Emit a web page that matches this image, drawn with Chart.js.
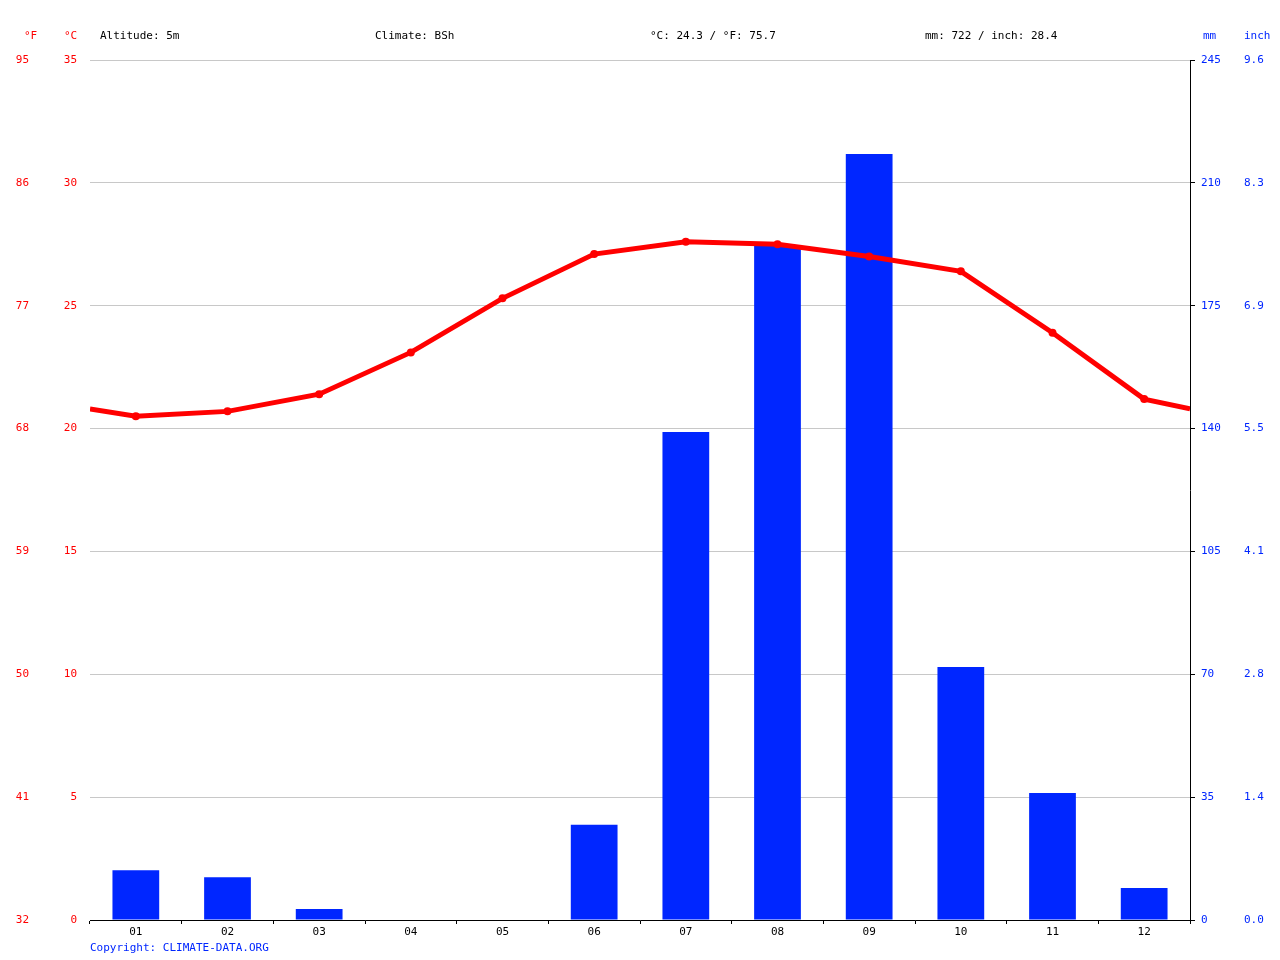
<!DOCTYPE html>
<html>
<head>
<meta charset="utf-8">
<script src="https://cdn.jsdelivr.net/npm/chart.js@4/dist/chart.umd.min.js"></script>
<style>body{margin:0;background:#fff}canvas{display:block}</style>
</head>
<body>
<canvas id="chart" width="1280" height="960"></canvas>
<script>
const months = ['01','02','03','04','05','06','07','08','09','10','11','12']
const tempC = [20.5, 20.7, 21.4, 23.1, 25.3, 27.1, 27.6, 27.5, 27.0, 26.4, 23.9, 21.2]
// temperature where the line meets the left and right edges
const edgeTemp = [20.8, 20.8]
const rainMm = [14.2, 12.2, 3.1, 0, 0, 27.1, 139, 192, 218.2, 72.1, 36.2, 9.1]
const headerTexts = ['Altitude: 5m', 'Climate: BSh', '°C: 24.3 / °F: 75.7', 'mm: 722 / inch: 28.4']

const FONT = 'DejaVu Sans Mono'
const RED = '#ff0000'
const BLUE = '#0026ff'

const linePoints = [{x: 0.5, y: edgeTemp[0]}]
tempC.forEach((t, i) => linePoints.push({x: i + 1, y: t}))
linePoints.push({x: 12.5, y: edgeTemp[1]})

const fixWidth = w => axis => { axis.width = w }

const header = {
    id: 'header',
    afterDraw(chart) {
        const ctx = chart.ctx
        ctx.save()
        ctx.font = '11px "' + FONT + '"'
        ctx.textBaseline = 'middle'
        ctx.fillStyle = RED
        ctx.fillText('°F', 24, 36)
        ctx.fillText('°C', 64, 36)
        ctx.fillStyle = '#000'
        const xs = [100, 375, 650, 925]
        headerTexts.forEach((t, i) => ctx.fillText(t, xs[i], 36))
        ctx.fillStyle = BLUE
        ctx.fillText('mm', 1203, 36)
        ctx.fillText('inch', 1244, 36)
        ctx.fillText('Copyright: CLIMATE-DATA.ORG', 90, 948)
        ctx.restore()
    }
}

new Chart(document.getElementById('chart'), {
    data: {
        labels: months,
        datasets: [{
            type: 'line',
            data: linePoints,
            xAxisID: 'x2',
            yAxisID: 'yC',
            borderColor: RED,
            backgroundColor: RED,
            borderWidth: 5,
            pointRadius: [0, 4, 4, 4, 4, 4, 4, 4, 4, 4, 4, 4, 4, 0],
            pointBackgroundColor: RED,
            pointBorderWidth: 0,
            tension: 0,
            order: 0
        }, {
            type: 'bar',
            data: rainMm,
            xAxisID: 'x',
            yAxisID: 'yMm',
            backgroundColor: BLUE,
            grouped: false,
            barPercentage: 0.51,
            categoryPercentage: 1,
            order: 1
        }]
    },
    options: {
        responsive: false,
        devicePixelRatio: 1,
        animation: false,
        layout: {padding: {top: 60, bottom: 0, left: 0, right: 0}},
        plugins: {legend: {display: false}, tooltip: {enabled: false}},
        scales: {
            x: {
                type: 'category',
                position: 'bottom',
                offset: true,
                afterFit: axis => { axis.height = 40 },
                grid: {drawOnChartArea: false, drawTicks: true, tickLength: 4, color: '#000', offset: true},
                border: {color: '#000'},
                ticks: {color: '#000', font: {family: FONT, size: 11}, padding: 2}
            },
            x2: {type: 'linear', display: false, min: 0.5, max: 12.5},
            yC: {
                position: 'left', min: 0, max: 35,
                afterFit: fixWidth(45),
                afterBuildTicks: axis => { axis.ticks = [0,5,10,15,20,25,30,35].map(v => ({value: v})) },
                grid: {color: '#c8c8c8', drawTicks: false}, border: {display: false},
                ticks: {color: RED, font: {family: FONT, size: 11}, padding: 13}
            },
            yF: {
                position: 'left', min: 0, max: 35,
                afterFit: fixWidth(45),
                afterBuildTicks: axis => { axis.ticks = [0,5,10,15,20,25,30,35].map(v => ({value: v})) },
                grid: {display: false}, border: {display: false},
                ticks: {color: RED, font: {family: FONT, size: 11}, padding: 8,
                    callback: v => Math.round(v * 9 / 5 + 32)}
            },
            yMm: {
                position: 'right', min: 0, max: 245,
                afterFit: fixWidth(50),
                afterBuildTicks: axis => { axis.ticks = [0,35,70,105,140,175,210,245].map(v => ({value: v})) },
                grid: {drawOnChartArea: false, drawTicks: true, tickLength: 5, color: '#000'},
                border: {color: '#000'},
                ticks: {color: BLUE, font: {family: FONT, size: 11}, padding: 6}
            },
            yIn: {
                position: 'right', min: 0, max: 245,
                afterFit: fixWidth(40),
                afterBuildTicks: axis => { axis.ticks = [0,35,70,105,140,175,210,245].map(v => ({value: v})) },
                grid: {display: false}, border: {display: false},
                ticks: {color: BLUE, font: {family: FONT, size: 11}, padding: -4,
                    callback: v => (v / 25.4).toFixed(1)}
            }
        }
    },
    plugins: [header]
})
</script>
</body>
</html>
